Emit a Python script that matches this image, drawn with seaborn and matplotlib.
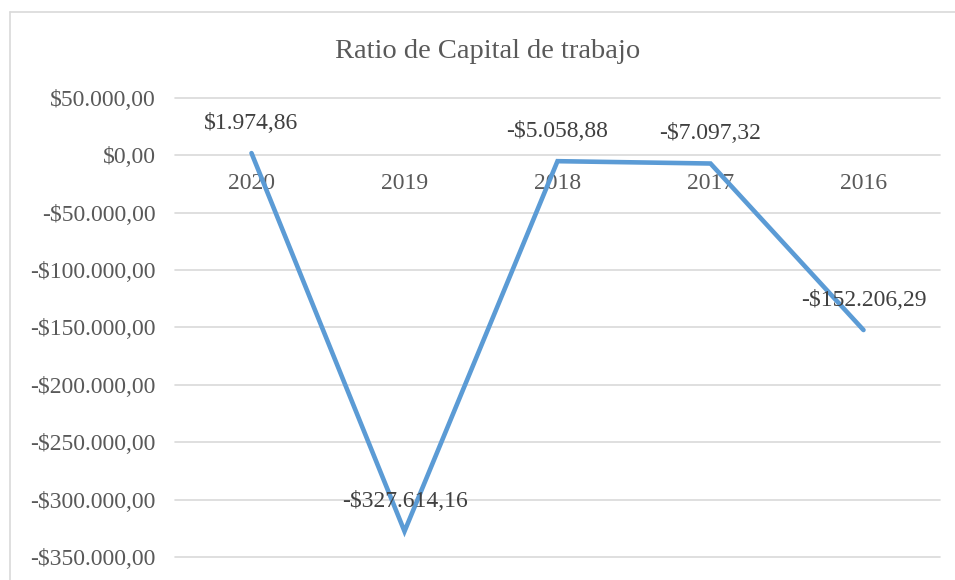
import matplotlib
matplotlib.use("Agg")
import matplotlib.pyplot as plt
import seaborn as sns
import pandas as pd
from matplotlib.lines import Line2D
from matplotlib.ticker import FuncFormatter

years = ["2020", "2019", "2018", "2017", "2016"]
values = [1974.86, -327614.16, -5058.88, -7097.32, -152206.29]
title = "Ratio de Capital de trabajo"

sns.set_theme(style="white")
plt.rcParams["font.family"] = ["Liberation Serif", "DejaVu Serif"]

GRAY_TXT = "#595959"
GRID = "#D9D9D9"
BLUE = "#5B9BD5"

def money(v, pos=None, dec=2):
    s = f"{abs(v):,.{dec}f}"
    s = s.replace(",", "X").replace(".", ",").replace("X", ".")
    return ("-" if v < 0 else "") + "$" + s

df = pd.DataFrame({"year": years, "value": values})

fig = plt.figure(figsize=(9.55, 5.8), dpi=100)
ax = fig.add_axes([175/955, 1-557/580, (940-175)/955, (557-98)/580])

sns.lineplot(data=df, x="year", y="value", sort=False, ax=ax, color=BLUE,
             linewidth=3.3, solid_capstyle="round", solid_joinstyle="miter")

ax.set_ylim(-350000, 50000)
ax.set_xlim(-0.5, len(years)-0.5)
ax.set_yticks(range(-350000, 50001, 50000))
ax.yaxis.set_major_formatter(FuncFormatter(lambda v, p: money(v)))
ax.grid(axis="y", color=GRID, linewidth=1.2)
ax.grid(axis="x", visible=False)
ax.set_axisbelow(True)
for gl in ax.get_ygridlines():
    gl.set_clip_on(False)
for s in ["top", "right", "left"]:
    ax.spines[s].set_visible(False)
ax.spines["bottom"].set_position(("data", 0))
ax.spines["bottom"].set_visible(False)
ax.tick_params(axis="y", length=0, pad=14, labelsize=17, labelcolor=GRAY_TXT)
ax.tick_params(axis="x", length=0, pad=13, labelsize=17, labelcolor=GRAY_TXT)
ax.set_xlabel("")
ax.set_ylabel("")

for i, v in enumerate(values):
    ax.annotate(money(v), xy=(i, v), xytext=(0, 21.6), textcoords="offset points",
                ha="center", va="center", fontsize=17, color="#404040")

fig.text(488/955, 1-51/580, title, ha="center", va="center", fontsize=20.5, color=GRAY_TXT)

# chart border (top and left visible)
fig.add_artist(Line2D([9.5/955, 9.5/955], [0, 1-11.5/580], color=GRID, linewidth=1.2))
fig.add_artist(Line2D([9.5/955, 1], [1-11.5/580, 1-11.5/580], color=GRID, linewidth=1.2))

fig.savefig("out.png", dpi=100, facecolor="white")
